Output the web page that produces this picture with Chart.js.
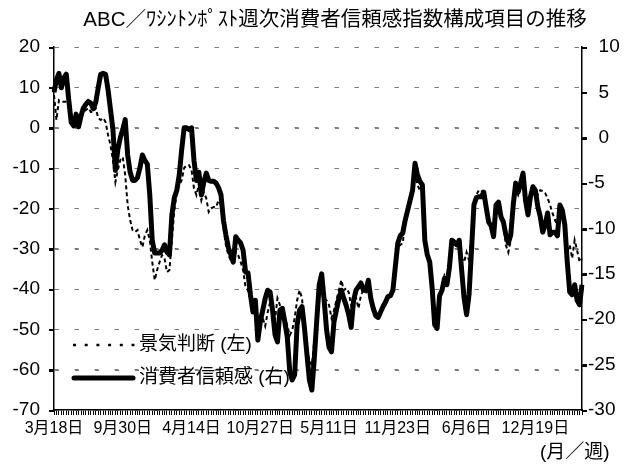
<!DOCTYPE html>
<html>
<head>
<meta charset="utf-8">
<script src="https://cdn.jsdelivr.net/npm/chart.js@4.4.1/dist/chart.umd.min.js"></script>
<style>
  html, body { margin: 0; padding: 0; background: #fff; }
  #stage { position: relative; width: 629px; height: 465px; }
  #gridLayer { position: absolute; left: 0; top: 0; width: 629px; height: 465px; z-index: 0; }
  #chart { position: absolute; left: 0; top: 0; z-index: 1; }
  .gl { position: absolute; height: 1px; background: repeating-linear-gradient(to right, #7a7a7a 0 4px, transparent 4px 20px); }
  .tk { position: absolute; width: 5px; height: 2px; background: #000; }
</style>
</head>
<body>
<div id="stage">
  <div id="gridLayer"></div>
  <canvas id="chart" width="629" height="465"></canvas>
</div>
<script>
// weekly series, first week 2001-03-18
const startDate = [2001, 2, 18];
const weekCount = 216;
const tickEvery = 28;
const tickLabels = ['3月18日', '9月30日', '4月14日', '10月27日', '5月11日', '11月23日', '6月6日', '12月19日'];

const categories = [];
for (let i = 0; i < weekCount; i++) {
    const d = new Date(Date.UTC(startDate[0], startDate[1], startDate[2] + 7 * i));
    categories.push((d.getUTCMonth() + 1) + '月' + d.getUTCDate() + '日');
}

// 景気判断 (left axis)
const sentiment = [
    8.1, 1.9, 6.8, 6.4, 6.4, 6.4, 6.1, 3.1, 1.9, 3.9,
    1.4, 2.4, 3.9, 4.4, 4.9, 3.9, 3.9, 4.9, 2.4, 1.9,
    2.4, 1.4, -1.8, -4.3, -8.0, -13.5, -10.5, -8.0, -7.3, -11.8,
    -19.2, -22.9, -25.4, -25.9, -25.4, -27.9, -29.6, -26.7, -25.4, -27.9,
    -33.3, -37.8, -35.3, -33.3, -31.6, -32.4, -35.8, -35.3, -27.9, -20.4,
    -16.0, -14.2, -13.0, -10.0, -9.3, -9.3, -10.5, -15.0, -16.7, -14.2,
    -18.0, -16.0, -17.5, -20.9, -20.0, -19.7, -19.7, -18.0, -19.2, -24.9,
    -29.1, -31.6, -32.9, -33.3, -30.9, -31.6, -33.3, -35.3, -39.6, -40.3,
    -42.8, -44.0, -44.0, -48.2, -46.5, -47.2, -49.2, -45.8, -43.3, -44.0,
    -47.7, -42.3, -44.0, -45.3, -47.2, -49.0, -51.5, -50.2, -47.2, -42.8,
    -40.3, -42.3, -50.2, -55.2, -57.7, -58.9, -52.7, -46.5, -40.8, -39.1,
    -42.3, -42.8, -44.0, -47.2, -45.3, -42.8, -40.3, -37.8, -40.3, -39.8,
    -40.8, -44.0, -42.8, -42.3, -44.8, -41.5, -40.3, -40.8, -39.1, -42.8,
    -45.3, -46.5, -47.2, -45.3, -44.0, -42.8, -42.3, -41.5, -39.1, -33.3,
    -29.6, -29.1, -28.6, -23.4, -20.9, -18.0, -15.0, -11.0, -14.2, -15.5,
    -16.0, -27.4, -31.6, -34.1, -39.1, -46.5, -47.2, -41.5, -39.1, -36.6,
    -37.8, -33.3, -28.4, -27.9, -28.6, -29.1, -32.4, -33.3, -30.9, -32.9,
    -26.7, -19.2, -16.7, -15.5, -15.5, -16.7, -20.4, -22.9, -24.2, -25.9,
    -20.0, -19.2, -22.4, -24.2, -29.1, -30.9, -27.9, -20.4, -15.0, -16.7,
    -15.0, -13.0, -17.5, -20.4, -16.7, -15.5, -15.0, -16.7, -15.5, -15.7,
    -16.2, -17.5, -19.2, -21.2, -22.9, -24.2, -20.4, -21.2, -24.2, -30.4,
    -29.1, -32.4, -27.9, -30.4, -33.3, -32.4
];

// 消費者信頼感 (right axis)
const confidence = [
    5.0, 6.4, 7.1, 5.5, 6.6, 7.0, 4.2, 1.7, 1.3, 2.6,
    1.2, 2.4, 3.3, 3.7, 4.0, 3.8, 3.2, 3.9, 5.5, 7.0,
    7.1, 7.0, 5.3, 3.1, 0.9, -3.6, -1.3, 0.0, 0.9, 2.0,
    -1.9, -3.8, -4.7, -4.7, -4.4, -3.3, -1.9, -2.5, -2.9, -6.3,
    -11.3, -12.7, -12.7, -12.7, -12.4, -11.8, -12.6, -12.9, -8.5, -6.6,
    -5.8, -4.1, -1.3, 1.1, 1.1, 0.9, 1.1, -2.5, -4.7, -3.8,
    -6.3, -4.9, -3.9, -4.7, -4.8, -4.8, -5.0, -5.5, -6.3, -9.1,
    -10.7, -12.1, -12.9, -13.7, -10.9, -11.3, -11.6, -12.4, -14.8, -14.9,
    -17.3, -19.2, -17.9, -22.3, -20.3, -19.0, -17.7, -16.8, -17.0, -19.0,
    -21.7, -22.5, -19.0, -18.8, -20.3, -22.0, -25.8, -26.7, -26.1, -20.6,
    -19.0, -18.6, -21.0, -23.9, -26.7, -27.8, -24.3, -20.1, -16.2, -15.0,
    -17.9, -21.2, -23.1, -23.6, -20.3, -19.0, -17.7, -16.8, -17.7, -18.5,
    -19.5, -20.9, -17.9, -16.8, -16.4, -16.0, -16.8, -16.8, -15.7, -17.7,
    -18.8, -19.6, -19.8, -19.2, -18.6, -18.1, -17.5, -17.4, -16.8, -14.2,
    -11.6, -10.8, -10.5, -9.1, -8.0, -6.9, -5.8, -2.8, -4.1, -4.8,
    -5.2, -11.3, -12.9, -13.7, -16.6, -20.6, -21.0, -17.4, -16.8, -15.5,
    -16.2, -14.3, -11.3, -11.6, -11.8, -11.3, -14.6, -17.7, -19.5, -17.3,
    -12.4, -7.4, -6.6, -6.5, -6.5, -6.0, -7.7, -9.3, -9.7, -10.9,
    -7.4, -7.1, -8.7, -9.3, -10.7, -11.6, -10.7, -7.4, -5.0, -6.0,
    -5.0, -3.9, -6.9, -8.5, -6.5, -5.4, -5.8, -7.6, -8.7, -10.4,
    -9.6, -8.3, -10.7, -10.4, -10.4, -10.8, -7.4, -8.0, -9.6, -13.7,
    -17.0, -17.3, -16.2, -17.9, -18.4, -16.2
];

const titleText = 'ABC／ﾜｼﾝﾄﾝﾎﾟｽﾄ週次消費者信頼感指数構成項目の推移';
const legendNames = ['景気判断 (左)', '消費者信頼感 (右)'];
const unitText = '(月／週)';

const numFont = '"Liberation Sans", "Noto Sans CJK JP", sans-serif';

// title, legend and unit label drawn on top of the chart
const overlay = {
    id: 'overlay',
    afterDraw(chart) {
        const c = chart.ctx;
        c.save();
        c.fillStyle = '#000';
        c.strokeStyle = '#000';
        c.textBaseline = 'middle';

        c.font = '20.5px ' + numFont;
        c.textAlign = 'center';
        c.fillText(titleText, 335, 20);

        // legend
        c.textAlign = 'left';
        c.font = '19px ' + numFont;
        c.lineWidth = 2.5;
        c.setLineDash([3, 8.7]);
        c.beginPath();
        c.moveTo(73, 345);
        c.lineTo(136, 345);
        c.stroke();
        c.fillText(legendNames[0], 139, 345);

        c.setLineDash([]);
        c.lineWidth = 5;
        c.lineCap = 'round';
        c.beginPath();
        c.moveTo(74, 378);
        c.lineTo(133, 378);
        c.stroke();
        c.fillText(legendNames[1], 139, 378);

        c.fillText(unitText, 540, 453);
        c.restore();
    }
};

const chart = new Chart(document.getElementById('chart'), {
    type: 'line',
    data: {
        labels: categories,
        datasets: [{
            data: confidence,
            yAxisID: 'y2',
            borderColor: '#000',
            borderWidth: 5,
            borderJoinStyle: 'round',
            pointRadius: 0,
            order: 0
        }, {
            data: sentiment,
            yAxisID: 'y',
            borderColor: '#000',
            borderWidth: 2,
            borderDash: [4, 3],
            pointRadius: 0,
            order: 1
        }]
    },
    options: {
        responsive: false,
        animation: false,
        layout: { padding: { top: 47 } },
        plugins: {
            legend: { display: false },
            title: { display: false },
            tooltip: { enabled: false }
        },
        scales: {
            x: {
                offset: false,
                afterFit: s => { s.height = 55; },
                grid: { drawOnChartArea: false, tickLength: 5, color: '#000' },
                border: { color: '#000', width: 1.5 },
                ticks: {
                    autoSkip: false,
                    maxRotation: 0,
                    minRotation: 0,
                    padding: 4,
                    color: '#000',
                    font: { family: numFont, size: 16 },
                    callback: (v, i) => (i % tickEvery === 0 ? tickLabels[i / tickEvery] : '')
                }
            },
            y: {
                position: 'left',
                min: -70,
                max: 20,
                afterFit: s => { s.width = 54; },
                grid: { color: '#7a7a7a', lineWidth: 1, tickColor: '#000', tickLength: 5 },
                border: { color: '#000', width: 1.5, dash: [4, 16] },
                ticks: {
                    stepSize: 10,
                    padding: 9,
                    color: '#000',
                    font: { family: numFont, size: 19 }
                }
            },
            y2: {
                position: 'right',
                min: -30,
                max: 10,
                afterFit: s => { s.width = 47; },
                grid: { drawOnChartArea: false, tickColor: '#000', tickLength: 5 },
                border: { color: '#000', width: 1.5 },
                ticks: {
                    stepSize: 5,
                    padding: 1,
                    color: '#000',
                    font: { family: numFont, size: 19 },
                    callback: v => (v >= 0 ? '\u2007' + v : String(v))
                }
            }
        }
    },
    plugins: [overlay]
});

// dashed gridlines and tick marks placed behind the (transparent) canvas,
// positioned from the chart's own scales
(function buildGridLayer() {
    const layer = document.getElementById('gridLayer');
    const area = chart.chartArea;
    const sy = chart.scales.y;
    const sy2 = chart.scales.y2;
    sy.ticks.forEach(t => {
        const py = Math.round(sy.getPixelForValue(t.value));
        if (t.value !== sy.min) {
            const g = document.createElement('div');
            g.className = 'gl';
            g.style.left = Math.round(area.left + 1) + 'px';
            g.style.top = py + 'px';
            g.style.width = Math.round(area.right - area.left - 1) + 'px';
            layer.appendChild(g);
        }
        const k = document.createElement('div');
        k.className = 'tk';
        k.style.left = Math.round(area.left - 5) + 'px';
        k.style.top = py + 'px';
        layer.appendChild(k);
    });
    sy2.ticks.forEach(t => {
        const py = Math.round(sy2.getPixelForValue(t.value));
        const k = document.createElement('div');
        k.className = 'tk';
        k.style.left = Math.round(area.right) + 'px';
        k.style.top = py + 'px';
        layer.appendChild(k);
    });
})();
</script>
</body>
</html>
